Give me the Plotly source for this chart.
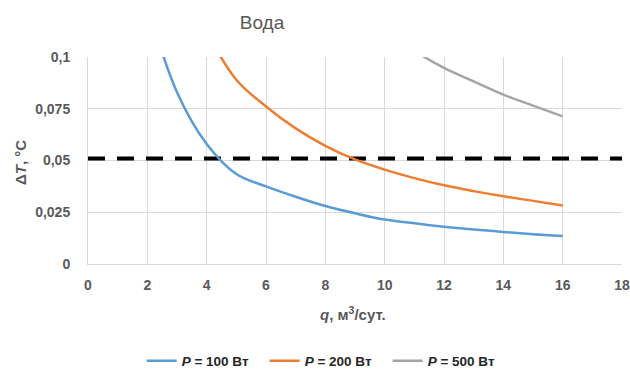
import plotly.graph_objects as go

# ---- data ----
q_100 = [2, 3, 4, 5, 6, 7, 8, 9, 10, 11, 12, 13, 14, 15, 16]
dt_100 = [0.125, 0.083, 0.058, 0.0435, 0.0375, 0.0325, 0.028, 0.0245, 0.0215,
          0.0197, 0.018, 0.0167, 0.0155, 0.0144, 0.0135]

q_200 = [4, 5, 6, 7, 8, 9, 10, 11, 12, 13, 14, 15, 16]
dt_200 = [0.112, 0.089, 0.0761, 0.0655, 0.0571, 0.0505, 0.0456, 0.0415, 0.038,
          0.0352, 0.0327, 0.0305, 0.0283]

q_500 = [10, 11, 12, 13, 14, 15, 16]
dt_500 = [0.113, 0.103, 0.0947, 0.0882, 0.0818, 0.0765, 0.0713]

limit_q = [0, 18]
limit_dt = [0.051, 0.051]

series_names = ["<i>P</i> = 100 Вт", "<i>P</i> = 200 Вт", "<i>P</i> = 500 Вт"]
series_colors = ["#5B9BD5", "#ED7D31", "#A5A5A5"]

x_ticks = [0, 2, 4, 6, 8, 10, 12, 14, 16, 18]
x_ticktext = ["0", "2", "4", "6", "8", "10", "12", "14", "16", "18"]
y_ticks = [0, 0.025, 0.05, 0.075, 0.1]
y_ticktext = ["0", "0,025", "0,05", "0,075", "0,1"]

FONT = "Liberation Sans"
TXT = "#595959"
GRID = "#D9D9D9"

fig = go.Figure()

fig.add_trace(go.Scatter(
    x=limit_q, y=limit_dt, mode="lines", showlegend=False, hoverinfo="skip",
    line=dict(color="black", width=4, dash="17px,12px")))

for xs, ys, name, col in zip([q_100, q_200, q_500], [dt_100, dt_200, dt_500],
                             series_names, series_colors):
    fig.add_trace(go.Scatter(
        x=xs, y=ys, mode="lines", name=name,
        line=dict(color=col, width=2.5, shape="spline", smoothing=1)))

fig.update_layout(
    width=630, height=369,
    margin=dict(l=88, r=8, t=57, b=105, autoexpand=False),
    paper_bgcolor="white", plot_bgcolor="white",
    font=dict(family=FONT, color=TXT),
    title=dict(text="Вода", x=262 / 630, xanchor="center",
               y=1 - 22 / 369, yanchor="middle",
               font=dict(family=FONT, size=19, color=TXT)),
    showlegend=True,
    legend=dict(orientation="h", x=0.446, xanchor="center",
                y=-0.469, yanchor="middle",
                entrywidth=78, entrywidthmode="pixels",
                font=dict(family=FONT, size=13.5, color="#262626", weight="bold"),
                bgcolor="rgba(0,0,0,0)"),
    xaxis=dict(range=[0, 18], tickvals=x_ticks, ticktext=x_ticktext,
               showgrid=True, gridcolor=GRID, gridwidth=1,
               zeroline=True, zerolinecolor=GRID, zerolinewidth=1,
               showline=True, linecolor=GRID, linewidth=1,
               ticks="", ticklabelstandoff=8,
               tickfont=dict(family=FONT, size=14, color=TXT, weight="bold")),
    yaxis=dict(range=[0, 0.1], tickvals=y_ticks, ticktext=y_ticktext,
               showgrid=True, gridcolor=GRID, gridwidth=1,
               zeroline=True, zerolinecolor=GRID, zerolinewidth=1,
               showline=True, linecolor=GRID, linewidth=1,
               ticks="", ticklabelstandoff=14,
               tickfont=dict(family=FONT, size=14, color=TXT, weight="bold")),
)

fig.add_annotation(
    text="<i>q</i>, м<sup>3</sup>/сут.", xref="paper", yref="paper",
    x=(353 - 88) / 534, y=(264 - 313) / 207, xanchor="center", yanchor="middle",
    showarrow=False, font=dict(family=FONT, size=15, color=TXT, weight="bold"))

fig.add_annotation(
    text="Δ<i>T</i>, °C", xref="paper", yref="paper", textangle=-90,
    x=(20 - 88) / 534, y=(264 - 163) / 207, xanchor="center", yanchor="middle",
    showarrow=False, font=dict(family=FONT, size=15, color=TXT, weight="bold"))

fig.write_html("out.html")
